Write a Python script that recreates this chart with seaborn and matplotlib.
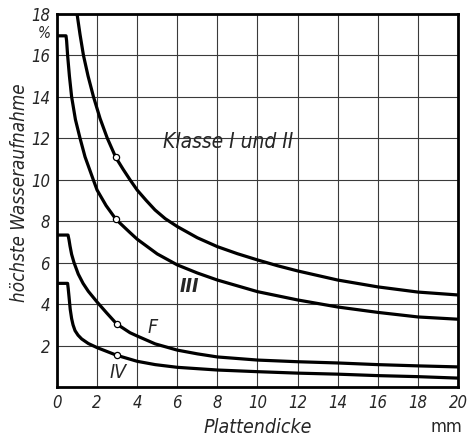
import numpy as np
import pandas as pd
import seaborn as sns
import matplotlib.pyplot as plt

# curve data (Plattendicke mm -> Wasseraufnahme %)
klasse_x = [1.0, 1.15, 1.32, 1.55, 1.82, 2.15, 2.51, 2.93, 3.3, 3.64, 4.0, 4.45, 4.89, 5.4, 6.0, 7.0, 8.0, 9.0, 10, 11, 12, 14, 16, 18, 20]
klasse_y = [18, 17.0, 16, 15.0, 14, 12.95, 12, 11.08, 10.5, 10.0, 9.5, 9.0, 8.54, 8.12, 7.74, 7.2, 6.77, 6.43, 6.13, 5.85, 5.6, 5.16, 4.83, 4.58, 4.44]

iii_x = [0, 0.45, 0.48, 0.53, 0.62, 0.73, 0.92, 1.15, 1.4, 1.81, 2.0, 2.45, 2.94, 3.64, 4.0, 5.0, 6.0, 7.0, 8.0, 10, 12, 14, 16, 18, 20]
iii_y = [16.94, 16.94, 16.7, 16, 15.0, 14, 12.9, 12, 11.1, 10, 9.5, 8.75, 8.09, 7.45, 7.13, 6.42, 5.89, 5.5, 5.16, 4.6, 4.2, 3.86, 3.6, 3.38, 3.27]

f_x = [0, 0.55, 0.6, 0.65, 0.73, 0.85, 1.06, 1.3, 1.56, 2.0, 2.5, 2.98, 3.64, 4.0, 4.9, 6.0, 7.0, 8.0, 10, 12, 14, 16, 18, 20]
f_y = [7.33, 7.33, 7.1, 6.8, 6.4, 6.0, 5.45, 5.0, 4.62, 4.1, 3.55, 3.04, 2.62, 2.46, 2.08, 1.78, 1.6, 1.45, 1.3, 1.22, 1.16, 1.08, 1.02, 0.97]

iv_x = [0, 0.53, 0.56, 0.6, 0.66, 0.73, 0.8, 0.9, 1.05, 1.23, 1.56, 2.0, 2.98, 4.0, 4.9, 6.0, 8.0, 10, 12, 14, 16, 18, 20]
iv_y = [5.0, 5.0, 4.75, 4.36, 3.75, 3.3, 3.0, 2.72, 2.5, 2.32, 2.1, 1.9, 1.53, 1.24, 1.08, 0.95, 0.82, 0.74, 0.67, 0.62, 0.55, 0.5, 0.43]

mark_x = [2.93, 2.94, 2.98, 2.98]
mark_y = [11.08, 8.09, 3.04, 1.53]

x_ticks = [0, 2, 4, 6, 8, 10, 12, 14, 16, 18, 20]
y_ticks = [2, 4, 6, 8, 10, 12, 14, 16, 18]

sns.set_style("white")
plt.rcParams['font.family'] = ['DejaVu Sans']
plt.rcParams['font.stretch'] = 'condensed'

fig = plt.figure(figsize=(4.69, 4.38), dpi=100)
ax = fig.add_axes([0.1215, 0.1164, 0.855, 0.852])

for xs, ys in [(klasse_x, klasse_y), (iii_x, iii_y), (f_x, f_y), (iv_x, iv_y)]:
    sns.lineplot(x=xs, y=ys, color="black", lw=2.3, sort=False, estimator=None, ax=ax,
                 zorder=3, solid_joinstyle="round", solid_capstyle="butt")

sns.scatterplot(x=mark_x, y=mark_y, s=20, color="white", edgecolor="black", linewidth=0.9, ax=ax, zorder=4)

ax.set_xlim(0, 20)
ax.set_ylim(0, 18)
ax.set_xticks(x_ticks)
ax.set_yticks(y_ticks)
ax.grid(True, color="#3a3a3a", lw=0.8)
ax.set_axisbelow(True)
for s in ax.spines.values():
    s.set_visible(True)
    s.set_color("black")
    s.set_linewidth(2.0)
ax.tick_params(length=0, labelsize=12, pad=5)
for lab in ax.get_xticklabels() + ax.get_yticklabels():
    lab.set_fontstyle("italic")

ax.text(-0.33, 17.05, "%", ha="right", va="center", fontsize=11, style="italic")

ax.text(8.55, 11.8, "Klasse I und II", ha="center", va="center", fontsize=15, style="italic")
ax.text(6.6, 4.85, "III", ha="center", va="center", fontsize=14, style="italic", weight="bold")
ax.text(4.75, 2.85, "F", ha="center", va="center", fontsize=14, style="italic")
ax.text(3.05, 0.68, "IV", ha="center", va="center", fontsize=14, style="italic")

fig.text(0.042, 0.56, "höchste Wasseraufnahme", rotation=90, ha="center", va="center",
         fontsize=13.5, style="italic")
fig.text(0.55, 0.025, "Plattendicke", ha="center", va="center", fontsize=14, style="italic")
fig.text(0.951, 0.025, "mm", ha="center", va="center", fontsize=13)

fig.savefig("out.png", dpi=100)
